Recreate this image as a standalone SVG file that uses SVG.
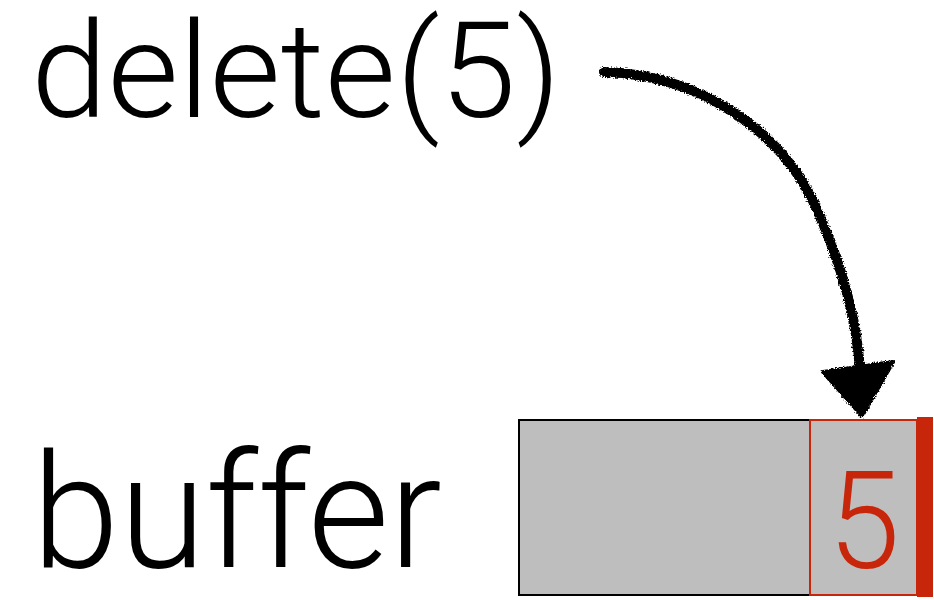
<svg xmlns="http://www.w3.org/2000/svg" width="934" height="600" viewBox="0 0 934 600">
  <defs>
    <filter id="rough" x="-10%" y="-10%" width="120%" height="120%">
      <feTurbulence type="fractalNoise" baseFrequency="0.7" numOctaves="2" seed="3" result="n"/>
      <feDisplacementMap in="SourceGraphic" in2="n" scale="5" xChannelSelector="R" yChannelSelector="G"/>
    </filter>
  </defs>
  <style>
    .lbl { font-family: Roboto, "Liberation Sans", sans-serif; font-weight: 300; fill: #000; }
    .cell { fill: #bebebe; }
  </style>
  <rect width="934" height="600" fill="#fff"/>
  <g id="delete-label">
    <text class="lbl" x="31" y="117" font-size="134" textLength="530" lengthAdjust="spacingAndGlyphs">delete(5)</text>
  </g>
  <g id="buffer-label">
    <text class="lbl" x="32" y="567" font-size="160" textLength="410" lengthAdjust="spacingAndGlyphs">buffer</text>
  </g>
  <g id="buffer">
    <rect class="cell" x="519" y="420" width="398" height="175" stroke="#000" stroke-width="2"/>
    <rect class="cell" x="810" y="420" width="107" height="175" stroke="#c8260a" stroke-width="2"/>
    <rect x="917" y="417" width="16" height="180" fill="#c8260a"/>
    <text x="828" y="568" font-family="Roboto, 'Liberation Sans', sans-serif" font-weight="300" font-size="136" fill="#c8260a" textLength="72" lengthAdjust="spacingAndGlyphs">5</text>
  </g>
  <g id="connectors" filter="url(#rough)">
    <path d="M604,72 C700,75 780,130 815,205 C845,270 858,330 860,372" fill="none" stroke="#000" stroke-width="10" stroke-linecap="round"/>
    <path d="M823,372 L893,362 L862,416 Z" fill="#000" stroke="#000" stroke-width="4" stroke-linejoin="round"/>
  </g>
</svg>
